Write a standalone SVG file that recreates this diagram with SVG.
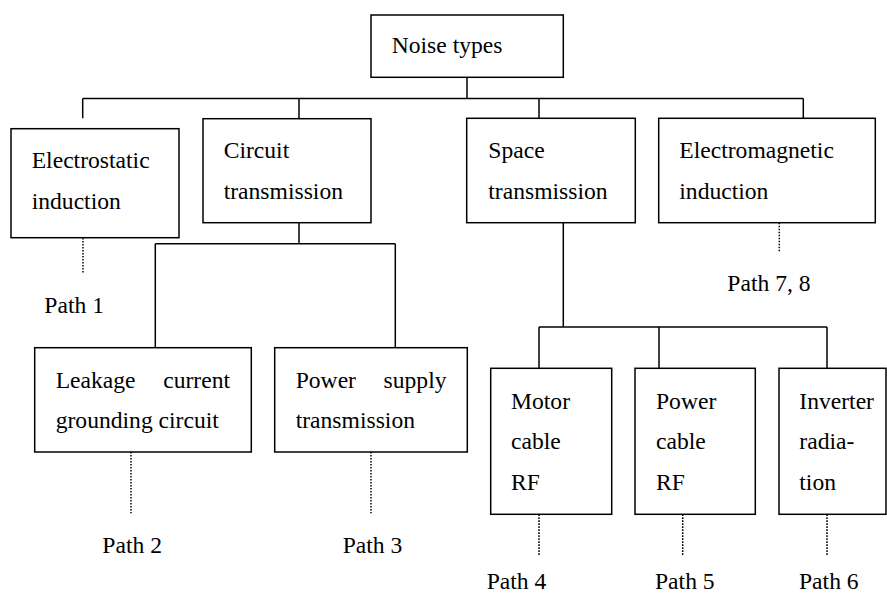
<svg xmlns="http://www.w3.org/2000/svg" width="887" height="594" viewBox="0 0 887 594">
<style>
  .box { fill: #ffffff; stroke: #000000; stroke-width: 1.5; }
  .ln { fill: none; stroke: #000000; stroke-width: 1.5; }
  .dot { fill: none; stroke: #000000; stroke-width: 1.5; stroke-dasharray: 1.6 1.4; }
  .t { font-family: 'Liberation Serif', 'DejaVu Serif', serif; font-size: 23.6px; fill: #000000; }
</style>
<rect width="887" height="594" fill="#ffffff"/>
<g id="connectors">
  <path class="ln" d="M467,77 V98.5 M82.7,98.5 H803.3 M82.7,98.5 V118.3 M299,98.5 V118.7 M539,98.5 V118.3 M803.3,98.5 V118.3"/>
  <path class="ln" d="M299,222.7 V243.7 M155.3,243.7 H395.3 M155.3,243.7 V347.7 M395.3,243.7 V347.7"/>
  <path class="ln" d="M563.3,222.7 V327 M539,327 H827 M539,327 V368.3 M659,327 V368.3 M827,327 V368.3"/>
  <path class="dot" d="M83,238 V273 M779.3,222.7 V252.7 M131,452 V513.3 M371,452 V513.3 M539,514.3 V555.7 M682.7,514.3 V555.7 M827,514.3 V555.7"/>
</g>
<g id="noise-types">
  <rect class="box" x="371" y="15" width="192.3" height="62.3"/>
  <text class="t" font-family="Liberation Serif, serif" x="391.7" y="53.3">Noise types</text>
</g>
<g id="electrostatic">
  <rect class="box" x="11" y="128.7" width="168" height="109"/>
  <text class="t" font-family="Liberation Serif, serif" x="31.7" y="168">Electrostatic</text>
  <text class="t" font-family="Liberation Serif, serif" x="31.7" y="209">induction</text>
</g>
<g id="circuit">
  <rect class="box" x="203" y="118.7" width="168" height="104"/>
  <text class="t" font-family="Liberation Serif, serif" x="223.7" y="158">Circuit</text>
  <text class="t" font-family="Liberation Serif, serif" x="223.7" y="199">transmission</text>
</g>
<g id="space">
  <rect class="box" x="466.7" y="118.3" width="168.6" height="104.4"/>
  <text class="t" font-family="Liberation Serif, serif" x="488.3" y="158">Space</text>
  <text class="t" font-family="Liberation Serif, serif" x="488.3" y="199">transmission</text>
</g>
<g id="electromagnetic">
  <rect class="box" x="658.7" y="118.3" width="216.6" height="104.4"/>
  <text class="t" font-family="Liberation Serif, serif" x="679.3" y="158">Electromagnetic</text>
  <text class="t" font-family="Liberation Serif, serif" x="679.3" y="199">induction</text>
</g>
<g id="leakage">
  <rect class="box" x="34.7" y="347.7" width="216.6" height="104.3"/>
  <text class="t" font-family="Liberation Serif, serif" y="388"><tspan x="55.7">Leakage</tspan><tspan x="230" text-anchor="end">current</tspan></text>
  <text class="t" font-family="Liberation Serif, serif" x="55.7" y="428.3">grounding circuit</text>
</g>
<g id="power-supply">
  <rect class="box" x="274.7" y="347.7" width="192.6" height="104.3"/>
  <text class="t" font-family="Liberation Serif, serif" y="388"><tspan x="295.7">Power</tspan><tspan x="446.5" text-anchor="end">supply</tspan></text>
  <text class="t" font-family="Liberation Serif, serif" x="295.7" y="428.3">transmission</text>
</g>
<g id="motor-cable">
  <rect class="box" x="490.7" y="368.3" width="121" height="146"/>
  <text class="t" font-family="Liberation Serif, serif" x="511" y="409">Motor</text>
  <text class="t" font-family="Liberation Serif, serif" x="511" y="449.3">cable</text>
  <text class="t" font-family="Liberation Serif, serif" x="511" y="490">RF</text>
</g>
<g id="power-cable">
  <rect class="box" x="635" y="368.3" width="120.3" height="146"/>
  <text class="t" font-family="Liberation Serif, serif" x="656" y="409">Power</text>
  <text class="t" font-family="Liberation Serif, serif" x="656" y="449.3">cable</text>
  <text class="t" font-family="Liberation Serif, serif" x="656" y="490">RF</text>
</g>
<g id="inverter">
  <rect class="box" x="779" y="368.3" width="107" height="146"/>
  <text class="t" font-family="Liberation Serif, serif" x="799.3" y="409">Inverter</text>
  <text class="t" font-family="Liberation Serif, serif" x="799.3" y="449.3">radia-</text>
  <text class="t" font-family="Liberation Serif, serif" x="799.3" y="490">tion</text>
</g>
<g id="path-labels">
  <text class="t" font-family="Liberation Serif, serif" x="44.3" y="313">Path 1</text>
  <text class="t" font-family="Liberation Serif, serif" x="727.3" y="290.7">Path 7, 8</text>
  <text class="t" font-family="Liberation Serif, serif" x="102.3" y="553.3">Path 2</text>
  <text class="t" font-family="Liberation Serif, serif" x="342.7" y="553.3">Path 3</text>
  <text class="t" font-family="Liberation Serif, serif" x="486.7" y="588.5">Path 4</text>
  <text class="t" font-family="Liberation Serif, serif" x="655" y="588.5">Path 5</text>
  <text class="t" font-family="Liberation Serif, serif" x="799" y="588.5">Path 6</text>
</g>
</svg>
